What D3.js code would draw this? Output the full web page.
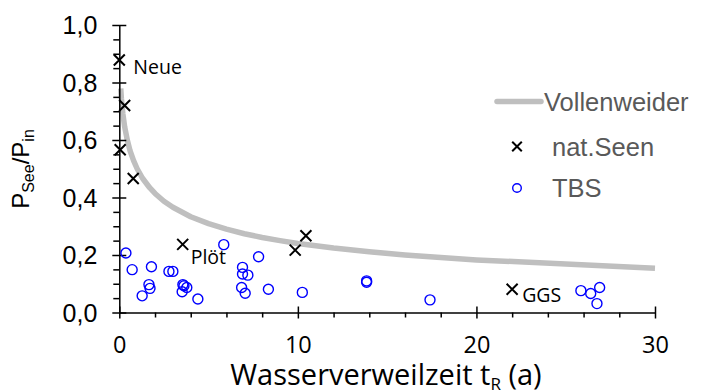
<!DOCTYPE html>
<html><head><meta charset="utf-8">
<script src="https://cdn.jsdelivr.net/npm/d3@7"></script>
<style>body{margin:0;background:#fff}svg{display:block}</style>
</head><body>
<svg id="c" width="702" height="392"></svg>
<script>
// ---- data ----
const vollT = [0.08,0.12,0.2,0.3,0.45,0.6,0.8,1,1.3,1.7,2,2.5,3,4,5,6,7,8,9,10,12,14,16,18,20,30];
const vollP = [0.779,0.743,0.691,0.646,0.599,0.563,0.528,0.5,0.467,0.434,0.414,0.387,0.366,0.333,0.309,0.290,0.274,0.261,0.25,0.240,0.224,0.211,0.2,0.191,0.183,0.154];
const natT = [0,0.05,0.3,0.78,3.55,9.85,10.45,22.0];
const natP = [0.878,0.566,0.72,0.466,0.237,0.217,0.267,0.081];
const natLabels = ["Neue","","","","Plöt","","","GGS"];
const tbsT = [0.37,0.72,1.28,1.66,1.72,1.8,2.78,3.0,3.52,3.56,3.62,3.78,4.4,5.85,6.85,6.9,6.9,7.05,7.2,7.8,8.35,10.25,13.85,13.85,17.4,25.85,26.4,26.75,26.9];
const tbsP = [0.207,0.149,0.058,0.097,0.084,0.159,0.143,0.143,0.072,0.097,0.093,0.087,0.047,0.236,0.087,0.157,0.134,0.067,0.13,0.194,0.081,0.07,0.11,0.105,0.044,0.076,0.066,0.031,0.087];
const xMajor = [0,10,20,30];
const xMajorLabels = ["0","10","20","30"];
const xMinor = [2,4,6,8,12,14,16,18,22,24,26,28];
const yMajor = [0,0.2,0.4,0.6,0.8,1.0];
const yMajorLabels = ["0,0","0,2","0,4","0,6","0,8","1,0"];
const yMinor = [0.05,0.1,0.15,0.25,0.3,0.35,0.45,0.5,0.55,0.65,0.7,0.75,0.85,0.9,0.95];
const legendLabels = ["Vollenweider","nat.Seen","TBS"];

// ---- layout ----
const svg = d3.select("#c");
const x = d3.scaleLinear().domain([0,30]).range([119.3,655]);
const y = d3.scaleLinear().domain([0,1]).range([312.5,25]);
const labelOff = {"Neue":[14,14],"Plöt":[8,20],"GGS":[10,13]};
const ARIAL = "'Liberation Sans', Arial, sans-serif";
const CAL = "'Open Sans', sans-serif";

// Vollenweider curve
const line = d3.line().x(d=>x(d[0])).y(d=>y(d[1]));
svg.append("path").datum(vollT.map((t,i)=>[t,vollP[i]]))
  .attr("d",line).attr("fill","none").attr("stroke","#bfbfbf")
  .attr("stroke-width",5.5).attr("stroke-linejoin","round");

// axes
function styleAxis(g){ g.select(".domain").attr("stroke","#000").attr("stroke-width",1.5);
  g.selectAll(".tick line").attr("stroke","#000").attr("stroke-width",1.5); }
const gx = svg.append("g").attr("transform",`translate(0,${y(0)})`);
gx.call(d3.axisBottom(x).tickValues(xMinor).tickSize(5).tickFormat("").tickSizeOuter(0)).call(styleAxis);
const gxM = svg.append("g").attr("transform",`translate(0,${y(0)})`);
gxM.call(d3.axisBottom(x).tickValues(xMajor).tickSize(6).tickSizeOuter(0).tickFormat((d,i)=>xMajorLabels[i])).call(styleAxis);
gxM.selectAll(".tick line").attr("y1",-6);
gxM.selectAll(".tick text").attr("font-family",CAL).attr("font-size",23.5).attr("fill","#000")
  .attr("y",0).attr("dy",0).attr("transform","translate(0,40.5)");
gxM.select(".domain").remove();

const gy = svg.append("g").attr("transform",`translate(${x(0)},0)`);
gy.call(d3.axisLeft(y).tickValues(yMinor).tickSize(6).tickFormat("").tickSizeOuter(0)).call(styleAxis);
const gyM = svg.append("g").attr("transform",`translate(${x(0)},0)`);
gyM.call(d3.axisLeft(y).tickValues(yMajor).tickSize(7).tickSizeOuter(0).tickFormat((d,i)=>yMajorLabels[i])).call(styleAxis);
gyM.selectAll(".tick line").attr("x1",7);
gyM.selectAll(".tick text").attr("font-family",ARIAL).attr("font-size",25).attr("fill","#000")
  .attr("x",-22).attr("dy","0.35em");
gyM.select(".domain").remove();

// TBS circles
svg.append("g").selectAll("circle").data(tbsT.map((t,i)=>[t,tbsP[i]])).join("circle")
  .attr("cx",d=>x(d[0])).attr("cy",d=>y(d[1])).attr("r",5)
  .attr("fill","none").attr("stroke","#0000ff").attr("stroke-width",1.4);

// nat crosses
const cross = (g,s)=>g.append("path").attr("d",`M${-s},${-s}L${s},${s}M${-s},${s}L${s},${-s}`)
  .attr("stroke","#000").attr("stroke-width",2).attr("fill","none");
const natG = svg.append("g").selectAll("g").data(natT.map((t,i)=>[t,natP[i],natLabels[i]])).join("g")
  .attr("transform",d=>`translate(${x(d[0])},${y(d[1])})`);
natG.each(function(){ cross(d3.select(this),5.5); });
natG.filter(d=>d[2]).append("text").text(d=>d[2])
  .attr("x",d=>labelOff[d[2]][0]).attr("y",d=>labelOff[d[2]][1])
  .attr("font-family",CAL).attr("font-size",19.5).attr("fill","#000");

// axis titles
const xt = svg.append("text").attr("x",386).attr("y",384.5).attr("text-anchor","middle")
  .attr("font-family",CAL).attr("font-size",29).attr("fill","#000");
xt.append("tspan").text("Wasserverweilzeit t");
xt.append("tspan").text("R").attr("font-size",17).attr("dy",5);
xt.append("tspan").text(" (a)").attr("dy",-5);

const yt = svg.append("text").attr("transform",`translate(29,169) rotate(-90)`).attr("text-anchor","middle")
  .attr("font-family",ARIAL).attr("font-size",24).attr("fill","#000");
yt.append("tspan").text("P");
yt.append("tspan").text("See").attr("font-size",16).attr("dy",5);
yt.append("tspan").text("/P").attr("dy",-5);
yt.append("tspan").text("in").attr("font-size",16).attr("dy",5);

// legend
const lg = svg.append("g");
const rowsY = [101.5,146.5,188];
lg.append("line").attr("x1",497).attr("x2",541).attr("y1",rowsY[0]).attr("y2",rowsY[0])
  .attr("stroke","#bfbfbf").attr("stroke-width",5.5).attr("stroke-linecap","round");
cross(lg.append("g").attr("transform",`translate(517,${rowsY[1]})`),4.8);
lg.append("circle").attr("cx",517).attr("cy",rowsY[2]).attr("r",4.3).attr("fill","none")
  .attr("stroke","#0000ff").attr("stroke-width",1.4);
lg.selectAll("text").data(legendLabels).join("text").text(d=>d)
  .attr("x",(d,i)=>i===0?544:552).attr("y",(d,i)=>rowsY[i]).attr("dy","0.36em")
  .attr("font-family",ARIAL).attr("font-size",25.5).attr("fill","#595959");
</script>
</body></html>
